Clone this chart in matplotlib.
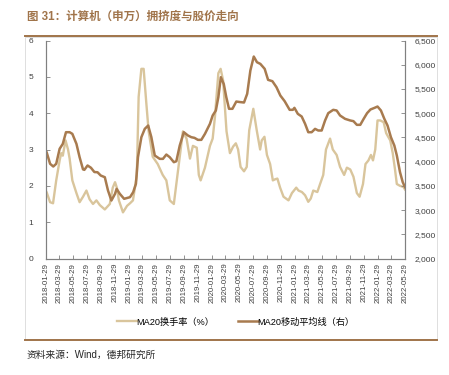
import matplotlib
matplotlib.use("Agg")
import matplotlib.pyplot as plt
import pandas as pd
from matplotlib.lines import Line2D
from matplotlib.patches import Rectangle

plt.rcParams['font.family'] = ['Liberation Sans', 'Noto Sans CJK SC', 'DejaVu Sans']

# MA20 turnover rate (%), left axis
turn_dates = ["2018-01-29", "2018-02-01", "2018-02-16", "2018-03-01", "2018-03-15", "2018-03-30", "2018-04-06",
              "2018-04-13", "2018-04-25", "2018-05-06", "2018-05-13", "2018-05-25", "2018-06-12",
              "2018-06-26", "2018-07-11", "2018-07-26", "2018-08-09", "2018-08-24", "2018-09-08",
              "2018-09-23", "2018-10-15", "2018-11-06", "2018-11-19", "2018-11-29", "2018-12-07",
              "2018-12-16", "2019-01-03", "2019-01-21", "2019-02-03", "2019-02-16", "2019-03-05",
              "2019-03-13", "2019-03-25", "2019-04-04", "2019-04-16", "2019-04-26", "2019-05-14",
              "2019-06-05", "2019-06-27", "2019-07-13", "2019-07-28", "2019-08-15", "2019-09-02",
              "2019-09-24", "2019-10-10", "2019-10-25", "2019-11-07", "2019-11-24", "2019-12-03",
              "2019-12-11", "2019-12-30", "2020-01-21", "2020-02-02", "2020-02-12", "2020-02-27",
              "2020-03-08", "2020-03-19", "2020-04-03", "2020-04-18", "2020-05-02", "2020-05-14",
              "2020-05-24", "2020-06-04", "2020-06-19", "2020-07-01", "2020-07-12", "2020-07-30",
              "2020-08-14", "2020-08-29", "2020-09-05", "2020-09-17", "2020-09-28", "2020-10-12",
              "2020-10-24", "2020-11-03", "2020-11-13", "2020-11-25", "2020-12-10", "2021-01-01",
              "2021-01-16", "2021-02-04", "2021-02-14", "2021-03-01", "2021-03-15", "2021-03-29",
              "2021-04-09", "2021-04-20", "2021-05-08", "2021-05-20", "2021-06-03", "2021-06-15",
              "2021-07-03", "2021-07-15", "2021-08-01", "2021-08-16", "2021-09-03", "2021-09-15",
              "2021-09-30", "2021-10-14", "2021-10-29", "2021-11-10", "2021-11-25", "2021-12-06",
              "2021-12-19", "2021-12-30", "2022-01-08", "2022-01-18", "2022-01-28", "2022-02-09",
              "2022-02-24", "2022-03-07", "2022-03-25", "2022-04-05", "2022-04-15", "2022-04-23",
              "2022-05-07", "2022-05-22", "2022-05-29"]
turn_values = [1.85, 1.82, 1.55, 1.52, 2.15, 2.7, 2.9,
               2.83, 3.25, 3.0, 2.75, 2.15, 1.8,
               1.55, 1.7, 1.87, 1.63, 1.5, 1.6,
               1.47, 1.35, 1.5, 1.95, 2.1, 1.95,
               1.6, 1.27, 1.45, 1.52, 1.6, 2.3,
               4.45, 5.22, 5.22, 4.26, 3.5, 2.8,
               2.6, 2.3, 2.15, 1.6, 1.5, 2.4,
               3.5, 3.3, 2.75, 3.1, 3.05, 2.3,
               2.15, 2.5, 3.1, 3.3, 3.9, 5.1,
               5.22, 4.9, 3.5, 2.9, 3.08, 3.17,
               3.0, 2.52, 2.4, 2.52, 3.53, 4.12,
               3.53, 3.0, 3.25, 3.35, 2.85, 2.6,
               2.15, 2.18, 2.2, 1.95, 1.7, 1.6,
               1.8, 1.95, 1.87, 1.83, 1.74, 1.56,
               1.65, 1.87, 1.83, 2.05, 2.3, 3.0,
               3.3, 3.0, 2.85, 2.52, 2.3, 2.5,
               2.45, 2.25, 1.8, 1.7, 2.05, 2.6,
               2.7, 2.85, 2.7, 3.0, 3.8, 3.8,
               3.75, 3.45, 3.25, 2.9, 2.45, 2.05,
               2.0, 1.97, 1.9]

# MA20 moving average of the index, right axis
price_dates = ["2018-01-29", "2018-02-01", "2018-02-16", "2018-03-02", "2018-03-15", "2018-03-30", "2018-04-13",
               "2018-04-27", "2018-05-13", "2018-05-25", "2018-06-12", "2018-06-26", "2018-07-11",
               "2018-07-17", "2018-07-31", "2018-08-15", "2018-08-30", "2018-09-13", "2018-09-27",
               "2018-10-15", "2018-10-29", "2018-11-13", "2018-11-29", "2018-12-06", "2018-12-20",
               "2019-01-08", "2019-02-03", "2019-02-17", "2019-03-01", "2019-03-10", "2019-03-25",
               "2019-04-09", "2019-04-24", "2019-05-08", "2019-05-23", "2019-06-14", "2019-06-28",
               "2019-07-13", "2019-07-28", "2019-08-15", "2019-08-26", "2019-09-10", "2019-09-28",
               "2019-10-16", "2019-10-31", "2019-11-14", "2019-11-29", "2019-12-14", "2019-12-30",
               "2020-01-21", "2020-02-02", "2020-02-16", "2020-02-27", "2020-03-09", "2020-03-22",
               "2020-04-02", "2020-04-14", "2020-04-29", "2020-05-16", "2020-05-31", "2020-06-19",
               "2020-07-03", "2020-07-17", "2020-08-01", "2020-08-15", "2020-08-30", "2020-09-18",
               "2020-10-03", "2020-10-22", "2020-11-09", "2020-11-26", "2020-12-15", "2021-01-06",
               "2021-01-20", "2021-01-27", "2021-02-11", "2021-02-28", "2021-03-15", "2021-03-29",
               "2021-04-13", "2021-04-28", "2021-05-12", "2021-05-27", "2021-06-11", "2021-06-25",
               "2021-07-17", "2021-08-01", "2021-08-16", "2021-09-07", "2021-09-30", "2021-10-14",
               "2021-10-29", "2021-11-13", "2021-11-28", "2021-12-13", "2021-12-28", "2022-01-15",
               "2022-01-28", "2022-02-12", "2022-02-27", "2022-03-13", "2022-03-28", "2022-04-12",
               "2022-04-23", "2022-05-07", "2022-05-19", "2022-05-29"]
price_values = [4220, 4190, 3955, 3899, 3955, 4264, 4367,
                4607, 4607, 4573, 4367, 4091, 3840,
                3830, 3920, 3873, 3785, 3780, 3713,
                3678, 3404, 3197, 3335, 3438, 3335,
                3232, 3266, 3370, 3541, 4091, 4504,
                4676, 4745, 4504, 4126, 4057, 4057,
                4146, 4091, 3988, 4008, 4332, 4607,
                4539, 4504, 4490, 4449, 4449, 4573,
                4780, 4952, 5055, 5330, 5742, 5600,
                5330, 5090, 5090, 5240, 5230, 5220,
                5399, 5880, 6169, 6052, 6017, 5915,
                5688, 5660, 5536, 5364, 5247, 5069,
                5069, 5110, 4986, 4931, 4780, 4607,
                4607, 4676, 4642, 4642, 4849, 5000,
                5069, 5055, 4952, 4883, 4849, 4835,
                4759, 4759, 4883, 5000, 5076, 5110,
                5137, 5055, 4883, 4745, 4504, 4332,
                4126, 3782, 3576, 3473]

x_start, x_end = "2018-01-29", "2022-05-29"
tick_labels = ["2018-01-29", "2018-03-29", "2018-05-29", "2018-07-29", "2018-09-29", "2018-11-29",
               "2019-01-29", "2019-03-29", "2019-05-29", "2019-07-29", "2019-09-29", "2019-11-29",
               "2020-01-29", "2020-03-29", "2020-05-29", "2020-07-29", "2020-09-29", "2020-11-29",
               "2021-01-29", "2021-03-29", "2021-05-29", "2021-07-29", "2021-09-29", "2021-11-29",
               "2022-01-29", "2022-03-29", "2022-05-29"]
left_ticks = [0, 1, 2, 3, 4, 5, 6]
right_ticks = [2000, 2500, 3000, 3500, 4000, 4500, 5000, 5500, 6000, 6500]

title = "图 31：计算机（申万）拥挤度与股价走向"
legend_labels = ["MA20换手率（%）", "MA20移动平均线（右）"]
source = "资料来源：Wind，德邦研究所"

LIGHT = "#D9C59C"
DARK = "#A87B4F"
BROWN = "#A0744A"
AXC = "#808080"
TXC = "#404040"
FAM = ["Liberation Sans", "Noto Sans CJK SC"]

fig = plt.figure(figsize=(4.49, 3.75), dpi=100)
W, H = 449, 375

def fx(px):
    return px / W

def fy(py):
    return 1 - py / H

# frame decorations
fig.patches.append(Rectangle((fx(25), fy(339)), fx(437) - fx(25), fy(37) - fy(339),
                             transform=fig.transFigure, fill=False, edgecolor="#D9D9D9", lw=0.6))
fig.add_artist(Line2D([fx(25), fx(437)], [fy(35.5), fy(35.5)], transform=fig.transFigure,
                      color=BROWN, lw=1.4))
fig.add_artist(Line2D([fx(25), fx(437)], [fy(339.5), fy(339.5)], transform=fig.transFigure,
                      color=BROWN, lw=1.4))
fig.text(fx(27), fy(17), title, color=BROWN, fontsize=8.3, fontweight="bold",
         family=FAM, va="center", ha="left")
fig.text(fx(27), fy(355), source, color="#262626", fontsize=7,
         family=FAM, va="center", ha="left")

ax = fig.add_axes([fx(46), fy(258.5), fx(405) - fx(46), fy(40.5) - fy(258.5)])
ax2 = ax.twinx()

td = pd.to_datetime(turn_dates)
pdt = pd.to_datetime(price_dates)
l1, = ax.plot(td, turn_values, color=LIGHT, lw=1.7, solid_joinstyle="round")
l2, = ax2.plot(pdt, price_values, color=DARK, lw=1.8, solid_joinstyle="round")
ax.set_zorder(1)
ax2.set_zorder(2)
ax.patch.set_visible(False)
ax2.patch.set_visible(False)

tick_dates = pd.to_datetime(tick_labels)
ax.set_xlim(pd.Timestamp(x_start), pd.Timestamp(x_end))
ax.set_ylim(0, 6)
ax2.set_ylim(2000, 6500)
ax.set_yticks(left_ticks)
ax2.set_yticks(right_ticks)
ax2.set_yticklabels([f"{v:,}" for v in right_ticks])
ax.set_xticks(tick_dates)
ax.set_xticklabels(tick_labels, rotation=90)

for a in (ax, ax2):
    a.spines["top"].set_visible(False)
    for s in ("left", "right", "bottom"):
        a.spines[s].set_color(AXC)
        a.spines[s].set_linewidth(0.8)
    a.tick_params(direction="in", length=3, width=0.6, color=AXC, labelcolor=TXC, labelsize=6)
ax.tick_params(axis="x", labelsize=5.6, pad=3)
ax.tick_params(axis="y", pad=9)
ax2.tick_params(axis="y", pad=7)

fig.legend([l1, l2], legend_labels, loc="center", bbox_to_anchor=(fx(236), fy(322)),
           ncol=2, frameon=False, handlelength=2.1, columnspacing=2.6,
           handletextpad=0.0, prop={"family": FAM, "size": 6.6})

fig.savefig("out.png", dpi=100)
